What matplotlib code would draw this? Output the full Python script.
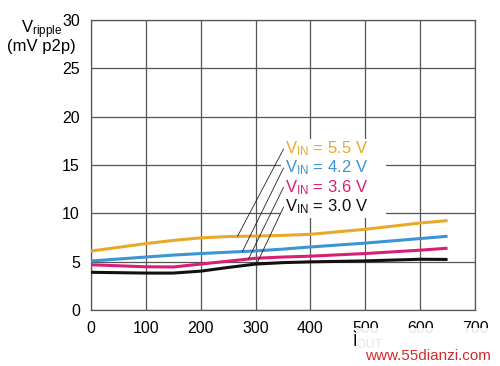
import numpy as np
import matplotlib
matplotlib.use("Agg")
import matplotlib.pyplot as plt
from matplotlib.patches import Rectangle

plt.rcParams['font.family'] = ['Liberation Sans', 'DejaVu Sans']
plt.rcParams['mathtext.fontset'] = 'custom'
plt.rcParams['mathtext.rm'] = 'Liberation Sans'
plt.rcParams['mathtext.it'] = 'Liberation Sans:italic'
plt.rcParams['mathtext.bf'] = 'Liberation Sans:bold'

# Data
iout = [0, 100, 150, 200, 250, 300, 350, 400, 500, 600, 650]
v55 = [6.1, 6.87, 7.2, 7.46, 7.6, 7.65, 7.72, 7.83, 8.35, 9.0, 9.25]
v42 = [5.07, 5.48, 5.68, 5.84, 5.98, 6.11, 6.3, 6.52, 6.92, 7.39, 7.63]
v36 = [4.68, 4.47, 4.45, 4.75, 5.05, 5.35, 5.48, 5.57, 5.84, 6.19, 6.39]
v30 = [3.9, 3.82, 3.82, 4.02, 4.4, 4.75, 4.9, 4.98, 5.08, 5.25, 5.23]
series_labels = ["5.5", "4.2", "3.6", "3.0"]
xticks = [0, 100, 200, 300, 400, 500, 600, 700]
yticks = [0, 5, 10, 15, 20, 25, 30]

colors = ['#e8a92a', '#3b95d2', '#d71f73', '#111111']
series = [v55, v42, v36, v30]

fig = plt.figure(figsize=(5.0, 3.66), dpi=100)
ax = fig.add_axes([91/500, 1-310/366, 384/500, 290/366])

ax.set_xlim(0, 700)
ax.set_ylim(0, 30)
ax.set_xticks(xticks)
ax.set_yticks(yticks)
ax.tick_params(length=0, labelsize=11.5, pad=8)
ax.grid(True, color='#555555', linewidth=0.9)
ax.set_axisbelow(True)
for s in ax.spines.values():
    s.set_color('#555555')
    s.set_linewidth(0.9)

# white box behind labels
ax.add_patch(Rectangle((346, 9.5), 192, 8.2, facecolor='white', edgecolor='none', zorder=1.5))

for ys, c in zip(series, colors):
    ax.plot(iout, ys, color=c, linewidth=2.2, zorder=3, solid_capstyle='butt')

label_y = [16.65, 14.7, 12.7, 10.65]
leader_x = [267, 276, 287, 302]
for lab, c, ly, lx, ys in zip(series_labels, colors, label_y, leader_x, series):
    ey = np.interp(lx, iout, ys)
    ax.annotate("", xy=(lx, ey), xytext=(351, ly),
                arrowprops=dict(arrowstyle='-', color='#222222', lw=0.6,
                                shrinkA=0, shrinkB=0), zorder=4)
    ax.text(353, ly, r"V$_{\mathregular{IN}}$ = " + lab + " V", color=c,
            fontsize=12, ha='left', va='center', zorder=5)

# y-axis title
fig.text(21/500, 1-33/366, r"V$_{\mathregular{ripple}}$", fontsize=12, ha='left', va='baseline')
fig.text(7/500, 1-47/366, "(mV p2p)", fontsize=12, ha='left', va='center')

# x-axis title (partially faded by watermark box)
fig.text(352/500, 1-342/366, r"I$_{\mathregular{OUT}}$", fontsize=12, ha='left', va='center')
fig.patches.append(Rectangle((356/500, 0), 144/500, 1-328/366, transform=fig.transFigure,
                             facecolor='white', edgecolor='none', alpha=0.9, zorder=5))
fig.text(365/500, 1-356/366, "www.55dianzi.com", fontsize=11, color='#d42a2a',
         ha='left', va='center', zorder=6)

fig.savefig("out.png", dpi=100)
